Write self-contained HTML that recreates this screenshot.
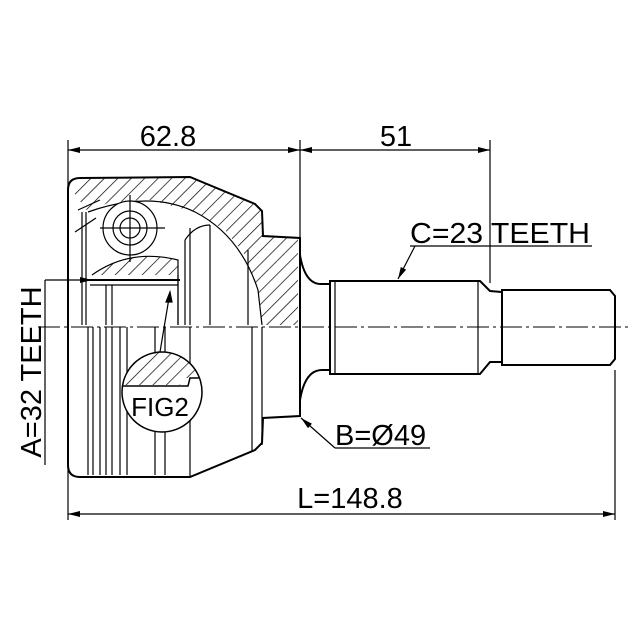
<!DOCTYPE html>
<html><head><meta charset="utf-8"><style>html,body{margin:0;padding:0;background:#fff}svg{display:block}</style></head>
<body>
<svg width="640" height="640" viewBox="0 0 640 640" xmlns="http://www.w3.org/2000/svg" font-family="Liberation Sans, sans-serif">
<defs>
<pattern id="h" width="9.5" height="9.5" patternUnits="userSpaceOnUse" patternTransform="rotate(45)">
<line x1="0" y1="0" x2="0" y2="9.5" stroke="#000" stroke-width="1.4"/>
</pattern>
<marker id="a" viewBox="0 0 12 6" refX="12" refY="3" markerWidth="12" markerHeight="6" orient="auto-start-reverse" markerUnits="userSpaceOnUse">
<path d="M0,0 L12,3 L0,6 z" fill="#000"/></marker>
<clipPath id="fc"><circle cx="162" cy="392" r="40"/></clipPath>
</defs>
<g stroke="#000" fill="none" stroke-width="1.2">
<line x1="68" y1="140" x2="68" y2="520"/>
<line x1="300" y1="140" x2="300" y2="238"/>
<line x1="490" y1="140" x2="490" y2="283"/>
<line x1="615" y1="370" x2="615" y2="520"/>
<line x1="68" y1="150" x2="300" y2="150" marker-start="url(#a)" marker-end="url(#a)"/>
<line x1="300" y1="150" x2="490" y2="150" marker-start="url(#a)" marker-end="url(#a)"/>
<line x1="68" y1="514" x2="615" y2="514" marker-start="url(#a)" marker-end="url(#a)"/>
<path d="M72,190 L80,178 L190,178 L255,205 L262,212 L263,236 L298,238 L298,325 L262,325 L258,290 L245,255 L225,230 L195,212 L150,200 L110,202 L88,212 Z" fill="url(#h)" stroke="none"/>
<path d="M92,275 Q130,248 178,260 L178,275 Z" fill="url(#h)" stroke="none"/>
<path d="M68,190 Q68,178 80,178 L190,177 L255,204 L262,211 L263,236 L300,238 L300,416 L263,418 L262,443 L255,450 L190,477 L80,477 Q68,477 68,465 Z" stroke-width="2"/>
<path d="M88,212 Q150,190 195,212 Q240,235 258,290 L262,325" />
<path d="M78,210 L100,200 M75,232 L96,218"/>
<line x1="82" y1="212" x2="82" y2="325"/>
<line x1="86" y1="212" x2="86" y2="325"/>
<path d="M92,275 Q130,248 178,260 L178,325"/>
<path d="M185,240 L185,325 M190,228 L190,325 M210,225 L210,325 M248,250 L248,325"/>
<path d="M185,240 Q195,225 210,225"/>
<line x1="88" y1="280" x2="180" y2="280" stroke-width="2"/>
<line x1="90" y1="285" x2="178" y2="285"/>
<line x1="106" y1="285" x2="106" y2="325"/>
<line x1="112" y1="285" x2="112" y2="325"/>
<line x1="178" y1="275" x2="178" y2="325"/>
<circle cx="130" cy="228" r="27" fill="#fff"/>
<circle cx="130" cy="228" r="17"/>
<circle cx="130" cy="228" r="10"/>
<line x1="100" y1="228" x2="165" y2="228"/>
<line x1="130" y1="195" x2="130" y2="262"/>
<path d="M88,327 L88,475 M93,327 L93,475 M100,327 L100,475 M106,327 L106,475 M112,327 L112,475 M120,327 L120,475 M127,327 L127,475 M155,327 L155,475 M165,327 L165,475 M190,327 L190,477 M252,327 L252,452 M262,327 L262,445"/>
<circle cx="162" cy="392" r="40" fill="#fff" stroke-width="1.5"/>
<g clip-path="url(#fc)"><path d="M110,385 L180,385 L182,378 L210,378 L210,340 L110,340 Z" fill="url(#h)" stroke="none"/></g>
<path d="M123,386 L188,386 L190,378 L202,378" clip-path="url(#fc)" stroke-width="1.5"/>
<line x1="170" y1="292" x2="160" y2="352"/>
<path d="M170,292 L166,302 L172,302 Z" fill="#000"/>
<path d="M300,255 Q305,285 322,284 L330,284 L330,370 L322,370 Q305,370 300,400" stroke-width="2"/>
<path d="M330,281 L480,281 L490,291 L502,292 L502,362 L490,362 L480,374 L330,374 Z" stroke-width="2"/>
<line x1="335" y1="281" x2="335" y2="374"/>
<line x1="478" y1="281" x2="478" y2="374"/>
<path d="M502,290 L610,290 L615,296 L615,359 L610,365 L502,365 Z" stroke-width="2"/>
<line x1="38" y1="327" x2="628" y2="327" stroke-dasharray="22,4,3,4" stroke-width="1"/>
<line x1="45" y1="280" x2="45" y2="465"/>
<line x1="45" y1="280" x2="92" y2="280" marker-end="url(#a)"/>
<line x1="410" y1="246" x2="592" y2="246"/>
<line x1="415" y1="246" x2="398" y2="279" marker-end="url(#a)"/>
<line x1="335" y1="448" x2="430" y2="448"/>
<line x1="335" y1="448" x2="301" y2="418" marker-end="url(#a)"/>
</g>
<g font-size="29" fill="#000">
<text x="168" y="146" text-anchor="middle">62.8</text>
<text x="396" y="146" text-anchor="middle">51</text>
<text x="410" y="243" textLength="180" lengthAdjust="spacingAndGlyphs">C=23 TEETH</text>
<text x="335" y="445">B=Ø49</text>
<text x="350" y="508" text-anchor="middle">L=148.8</text>
<text transform="translate(41,372) rotate(-90)" text-anchor="middle">A=32 TEETH</text>
<text x="160" y="416" text-anchor="middle" font-size="26">FIG2</text>
</g>
</svg>
</body></html>
